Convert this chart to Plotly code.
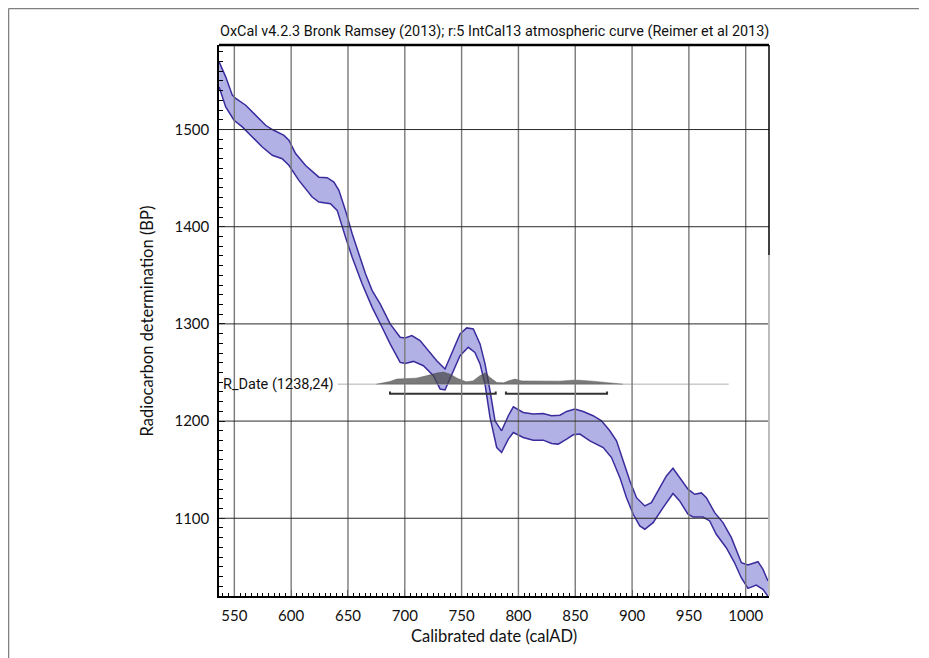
import plotly.graph_objects as go

# IntCal13 band (upper and lower 1-sigma envelope)
upper_year = [536.6, 542.4, 548.2, 551.2, 560, 568.8, 577.5, 583.4, 589.3, 593.7, 598, 603.9, 612.7, 624.4,
              631.7, 637.6, 642, 647.8, 653.7, 659.6, 665.4, 671.3, 678.3, 687.1, 695.9, 700.3, 706.2, 713.4,
              722.2, 728.1, 735.4, 741.3, 748.6, 754.5, 760.3, 766.2, 770.6, 775, 779.4, 785.2, 791.1, 795.5,
              804.2, 813, 821.8, 829.2, 836.5, 842.4, 849.7, 857, 865.7, 873.1, 880.4, 886.3, 892.1, 898,
              903.9, 911.2, 917, 924.3, 930.2, 936, 941.9, 949.2, 955.1, 961, 965.4, 972.7, 980, 987.4,
              996.2, 1002, 1010.8, 1015.2, 1019.6]
upper_bp = [1569.7, 1554.2, 1535.4, 1532, 1525, 1514.7, 1504.4, 1500, 1496.5, 1494, 1489, 1475.3, 1463, 1451,
            1450.5, 1446, 1437.4, 1416.8, 1392.8, 1372, 1351.5, 1334.3, 1320.6, 1300, 1286.2, 1285.6, 1288, 1282.8,
            1270.7, 1262, 1253.6, 1269, 1289.7, 1295.9, 1294.8, 1279.4, 1258.8, 1231.2, 1200.3, 1190, 1205.5, 1214.7,
            1208.9, 1207.2, 1207.8, 1205.5, 1206, 1209.9, 1212.4, 1209.9, 1205.5, 1200.3, 1190, 1179.7, 1159.5, 1138.5,
            1121.2, 1112.7, 1116, 1131.6, 1143.6, 1151.5, 1141.8, 1129.9, 1124.7, 1126.1, 1121.2, 1105.8, 1095.5, 1080,
            1054.2, 1051.9, 1055.3, 1047.4, 1035.4]

lower_year = [536.6, 542.4, 549.7, 557, 565.8, 574.6, 583.4, 592.1, 598, 606.8, 618.5, 624.4, 634.6, 640.5,
              647.8, 653.7, 662.5, 671.3, 680, 687.1, 695.9, 700.3, 707.6, 716.4, 725.2, 731.1, 735.4, 741.3,
              748.6, 755.9, 761.7, 766.2, 770.6, 775, 780.9, 785.2, 791.1, 795.5, 804.2, 813, 821.8, 829.2,
              835, 842.4, 848.2, 854.1, 862.9, 874.6, 881.9, 889.3, 895.1, 901, 906.8, 911.2, 918.5, 927.3,
              936, 941.9, 949.2, 953.6, 962.4, 968.3, 974.1, 982.9, 990.2, 996.1, 1002, 1009.3, 1015.1, 1019.5]
lower_bp = [1543.9, 1523.3, 1509.6, 1502.7, 1492.4, 1482, 1473.5, 1470, 1463.2, 1447.7, 1430.5, 1425.4, 1423.7, 1416.8,
            1389.3, 1368.7, 1341, 1317, 1296.6, 1279.4, 1260.4, 1259.4, 1261.4, 1257, 1246.7, 1233, 1232, 1248.5,
            1267.3, 1275.9, 1270.7, 1258.8, 1238.1, 1203.7, 1172.8, 1167.6, 1181.4, 1188.2, 1183.1, 1180.4, 1180.4, 1176.9,
            1176.3, 1181.4, 1185.9, 1186.6, 1179.7, 1172.8, 1162.5, 1141.8, 1121.2, 1104.1, 1092.1, 1088.7, 1095.5, 1110.9,
            1125.4, 1117.8, 1104.1, 1101.3, 1101.3, 1097.2, 1083.5, 1069.7, 1054.2, 1038.8, 1027.8, 1031.2, 1026.8, 1019.9]

# R_Date probability distribution (relative density)
date_label = "R_Date (1238,24)"
date_bp = 1238
prob_year = [675, 680, 687, 693, 702, 710, 719, 728, 734, 740, 746, 754, 760, 766, 771, 775, 781, 787,
             791, 797, 803, 813, 825, 836, 848, 853, 865, 875, 885, 892]
prob_rel = [0, 0.07, 0.22, 0.42, 0.44, 0.5, 0.69, 0.92, 1.0, 0.83, 0.5, 0.19, 0.27, 0.69, 0.94, 0.56, 0.14, 0.11,
            0.27, 0.42, 0.27, 0.25, 0.25, 0.25, 0.33, 0.33, 0.25, 0.17, 0.07, 0]
date_line = [641, 985]
ranges_954 = [(687, 780), (789, 878)]

title_text = "OxCal v4.2.3 Bronk Ramsey (2013); r:5 IntCal13 atmospheric curve (Reimer et al 2013)"
x_title = "Calibrated date (calAD)"
y_title = "Radiocarbon determination (BP)"
x_ticks = [550, 600, 650, 700, 750, 800, 850, 900, 950, 1000]
y_ticks = [1100, 1200, 1300, 1400, 1500]

XR = [536.5, 1020.5]
YR = [1020, 1587]
PROB_SCALE = 12.4  # BP units at peak
LINE_C = "#3a2c9c"
FILL_C = "#b1b1e6"

fig = go.Figure()

fig.add_trace(go.Scatter(x=upper_year + lower_year[::-1], y=upper_bp + lower_bp[::-1],
                         fill="toself", fillcolor=FILL_C, line=dict(width=0), mode="lines",
                         hoverinfo="skip", showlegend=False))
fig.add_trace(go.Scatter(x=upper_year, y=upper_bp, mode="lines", line=dict(color=LINE_C, width=1.5),
                         showlegend=False))
fig.add_trace(go.Scatter(x=lower_year, y=lower_bp, mode="lines", line=dict(color=LINE_C, width=1.5),
                         showlegend=False))

fig.add_trace(go.Scatter(x=date_line, y=[date_bp, date_bp], mode="lines",
                         line=dict(color="#b0b0b0", width=1), showlegend=False))
fig.add_trace(go.Scatter(x=prob_year, y=[date_bp + p * PROB_SCALE for p in prob_rel],
                         mode="lines", fill="toself", fillcolor="rgba(70,70,70,0.72)",
                         line=dict(color="rgba(70,70,70,0.8)", width=0.5), showlegend=False))

bx, by = [], []
bracket_y = date_bp - 10
for a, b in ranges_954:
    bx += [a, a, b, b, None]
    by += [bracket_y + 2.5, bracket_y, bracket_y, bracket_y + 2.5, None]
fig.add_trace(go.Scatter(x=bx, y=by, mode="lines", line=dict(color="#333333", width=2),
                         showlegend=False))

shapes = []
for t in x_ticks:
    shapes.append(dict(type="line", xref="x", yref="paper", x0=t, x1=t, y0=0, y1=1,
                       line=dict(color="#7a7a7a", width=1.4), layer="above"))
for t in y_ticks:
    shapes.append(dict(type="line", xref="paper", yref="y", x0=0, x1=1, y0=t, y1=t,
                       line=dict(color="#2a2a2a", width=1), layer="above"))
shapes += [
    dict(type="line", xref="paper", yref="paper", x0=0, x1=1, y0=1, y1=1, line=dict(color="black", width=2.5)),
    dict(type="line", xref="paper", yref="paper", x0=1, x1=1, y0=0.619, y1=1, line=dict(color="black", width=1.5)),
    dict(type="line", xref="paper", yref="paper", x0=1, x1=1, y0=0, y1=0.619, line=dict(color="#bdbdbd", width=2)),
]
# outer figure frame (top & left)
shapes += [
    dict(type="line", xref="paper", yref="paper", x0=-0.3827, x1=1.2727, y0=1.0662, y1=1.0662,
         line=dict(color="#808080", width=1.5)),
    dict(type="line", xref="paper", yref="paper", x0=-0.3827, x1=-0.3827, y0=-0.2, y1=1.0662,
         line=dict(color="#808080", width=1.5)),
]

annotations = [
    dict(text=title_text, xref="paper", yref="paper", x=0.5, y=1.024, showarrow=False,
         xanchor="center", yanchor="middle", font=dict(family="Roboto", size=14.4, color="#111")),
    dict(text=x_title, xref="paper", yref="paper", x=0.5, y=-0.073, showarrow=False,
         xanchor="center", yanchor="middle", font=dict(family="Lato", size=16.5, color="#111")),
    dict(text=y_title, xref="paper", yref="paper", x=-0.131, y=0.5, showarrow=False, textangle=-90,
         xanchor="center", yanchor="middle", font=dict(family="Lato", size=16.5, color="#111")),
    dict(text=date_label, xref="x", yref="y", x=date_line[0], y=date_bp, showarrow=False,
         xanchor="right", yanchor="middle", xshift=-2, font=dict(family="Roboto", size=14.5, color="#111")),
]

fig.update_layout(
    width=921, height=650,
    margin=dict(l=211, r=160, t=37, b=62),
    paper_bgcolor="white", plot_bgcolor="white",
    shapes=shapes, annotations=annotations,
    xaxis=dict(range=XR, tickvals=x_ticks, showgrid=False, zeroline=False,
               showline=True, linecolor="black", linewidth=1.5,
               ticks="inside", ticklen=6, tickwidth=1.2, tickcolor="black",
               minor=dict(dtick=5, ticks="inside", ticklen=3.5, tickcolor="black", tickwidth=1),
               tickfont=dict(family="Lato", size=15, color="#111"), ticklabelstandoff=5),
    yaxis=dict(range=YR, tickvals=y_ticks, showgrid=False, zeroline=False,
               showline=True, linecolor="black", linewidth=1.5,
               ticks="inside", ticklen=6, tickwidth=1.2, tickcolor="black",
               minor=dict(dtick=10, ticks="inside", ticklen=4, tickcolor="black", tickwidth=1),
               tickfont=dict(family="Lato", size=15, color="#111"), ticklabelstandoff=5),
)

fig.write_html("out.html")
